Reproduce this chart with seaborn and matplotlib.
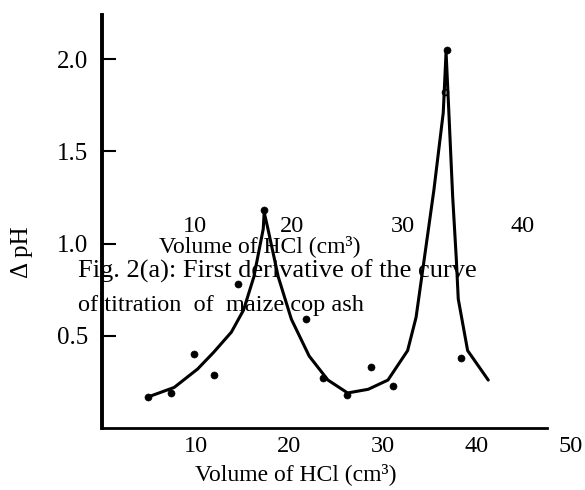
"""
Primera derivada de la curva de valoración (ceniza de mazorca de maíz).
"""
import matplotlib
matplotlib.use("Agg")
import matplotlib.pyplot as plt
import seaborn as sns
import pandas as pd

# curva trazada a mano (volumen HCl, delta pH)
curve_vol = [5.0, 7.7, 10.2, 11.9, 13.8, 15.1, 16.2, 17.2, 17.3, 17.7, 18.8, 20.2,
             22.1, 24.1, 26.2, 28.4, 30.5, 32.6, 33.5, 34.3, 35.4, 36.4, 36.7,
             37.0, 37.4, 37.8, 38.0, 39.0, 41.2]
curve_dph = [0.17, 0.22, 0.32, 0.41, 0.52, 0.64, 0.82, 1.08, 1.17, 1.08, 0.82, 0.59,
             0.39, 0.26, 0.19, 0.21, 0.26, 0.42, 0.60, 0.89, 1.29, 1.71, 2.04,
             1.71, 1.26, 0.91, 0.70, 0.42, 0.26]

# puntos experimentales
point_vol = [4.9, 7.4, 9.8, 11.9, 14.5, 17.3, 21.8, 23.6, 26.1, 28.7, 31.0, 36.8, 38.3]
point_dph = [0.17, 0.19, 0.40, 0.29, 0.78, 1.18, 0.59, 0.27, 0.18, 0.33, 0.23, 2.05, 0.38]
open_vol = [36.6]
open_dph = [1.82]

x_labels = [10, 20, 30, 40, 50]
x_marks = [12, 24, 36, 47.5]
y_ticks = [0.5, 1.0, 1.5, 2.0]
overlay_labels = ["10", "20", "30", "40"]

sns.set_style("white")
plt.rcParams['font.family'] = ['Liberation Serif', 'DejaVu Serif']
plt.rcParams.update({'text.color': 'black', 'xtick.color': 'black',
                     'ytick.color': 'black'})

fig = plt.figure(figsize=(5.85, 4.9), dpi=100)
ax = fig.add_axes([102 / 585, 62 / 490, 51 * 9.375 / 585, 413 / 490])

curve = pd.DataFrame({"vol": curve_vol, "dph": curve_dph})
pts = pd.DataFrame({"vol": point_vol, "dph": point_dph})
sns.lineplot(data=curve, x="vol", y="dph", sort=False, color="black", linewidth=2.2, ax=ax)
sns.scatterplot(data=pts, x="vol", y="dph", color="black", s=26, edgecolor="black", ax=ax)
sns.scatterplot(x=open_vol, y=open_dph, facecolor="white", edgecolor="black",
                linewidth=1.2, s=18, ax=ax)

ax.set_xlim(0, 51)
ax.set_ylim(0, 2.24)
for side in ["top", "right"]:
    ax.spines[side].set_visible(False)
ax.spines["left"].set_linewidth(2.8)
ax.spines["bottom"].set_linewidth(2.0)
ax.spines["bottom"].set_bounds(0, 47.5)
for sp in ["left", "bottom"]:
    ax.spines[sp].set_color("black")

ax.set_xticks(x_labels)
ax.set_xticklabels([str(v) for v in x_labels])
ax.set_xticks(x_marks, minor=True)
ax.tick_params(axis="x", which="major", length=0, labelsize=17.5, pad=6)
ax.tick_params(axis="x", which="minor", direction="in", length=6, width=3, color="black")
ax.set_yticks(y_ticks)
ax.set_yticklabels([f"{v:.1f}" for v in y_ticks])
ax.tick_params(axis="y", direction="in", length=10, width=1.5, labelsize=18, pad=10,
               color="black", left=True)
ax.set_xlabel("")
ax.set_ylabel("")

# etiquetas de los ejes
fig.text(296 / 585, 1 - 474 / 490, "Volume of HCl (cm\u00b3)", ha="center", va="center",
         fontsize=17)
fig.text(22 / 585, 1 - 252 / 490, "\u0394 pH", ha="center", va="center", rotation=90,
         fontsize=18)

# texto sobreimpreso de otra figura
for lab, px in zip(overlay_labels, [195, 292, 403, 523]):
    fig.text(px / 585, 1 - 226 / 490, lab, ha="center", va="center", fontsize=17.5)
fig.text(260 / 585, 1 - 246 / 490, "Volume of HCl (cm\u00b3)", ha="center", va="center",
         fontsize=17)
fig.text(78 / 585, 1 - 271 / 490, "Fig. 2(a): First derivative of the curve",
         ha="left", va="center", fontsize=19)
fig.text(78 / 585, 1 - 305 / 490, "of titration  of  maize cop ash",
         ha="left", va="center", fontsize=17.5)

plt.savefig("out.png", dpi=100)
plt.close()
